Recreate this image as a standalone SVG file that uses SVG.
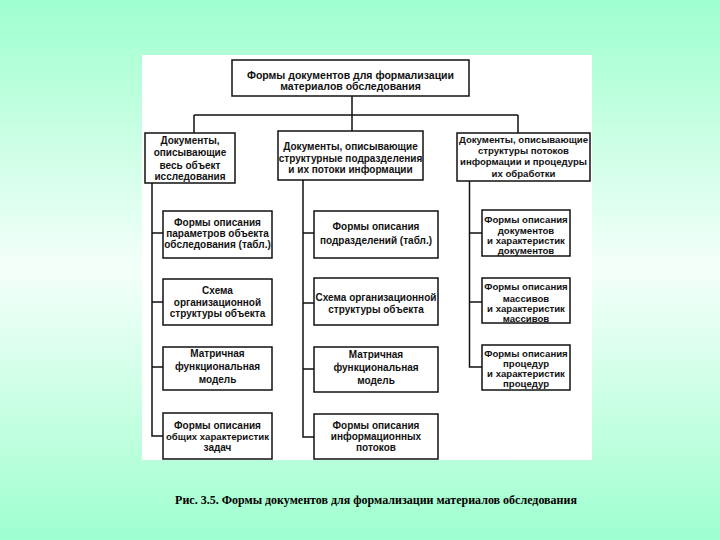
<svg xmlns="http://www.w3.org/2000/svg" width="720" height="540" viewBox="0 0 720 540">
<defs>
<linearGradient id="bg" x1="0" y1="0" x2="0" y2="1">
<stop offset="0" stop-color="#9effce"/>
<stop offset="0.5" stop-color="#f4fffa"/>
<stop offset="1" stop-color="#9effce"/>
</linearGradient>
<style>
.box{fill:#fff;stroke:#111;stroke-width:1.5}
.ln{fill:none;stroke:#111;stroke-width:1.5}
text{font-family:"Liberation Sans",Arial,sans-serif;font-size:10px;font-weight:bold;fill:#111;text-anchor:middle}
.top{font-size:10.5px}
.sm{font-size:9.6px}
.cap{font-family:"Liberation Serif","Times New Roman",serif;font-size:12px;font-weight:bold;fill:#000}
</style>
</defs>
<rect width="720" height="540" fill="url(#bg)"/>
<rect x="142" y="55" width="450" height="405" fill="#fff"/>

<g id="connectors">
<path class="ln" d="M352 96V131M194 115H518M194 115V133M518 115V133"/>
<path class="ln" d="M152 183V436H163M152 233H163M152 302H163M152 367H163"/>
<path class="ln" d="M303 180V437H314M303 233H314M303 303H314M303 369H314"/>
<path class="ln" d="M469.5 181V367H482M469.5 233H482M469.5 302H482"/>
</g>

<g id="root">
<rect class="box" x="232" y="60" width="237" height="36"/>
<text class="top" x="350.5" y="78.5">Формы документов для формализации</text>
<text class="top" x="350.5" y="90">материалов обследования</text>
</g>

<g id="l1">
<rect class="box" x="145" y="133" width="90" height="50"/>
<text x="190" y="143.5">Документы,</text>
<text x="190" y="156">описывающие</text>
<text x="190" y="168.5">весь объект</text>
<text x="190" y="180">исследования</text>
</g>
<g id="m1">
<rect class="box" x="278" y="131" width="145" height="49"/>
<text x="350.5" y="150">Документы, описывающие</text>
<text x="350.5" y="161.5">структурные подразделения</text>
<text x="350.5" y="172.5">и их потоки информации</text>
</g>
<g id="r1" class="sm">
<rect class="box" x="457" y="133" width="133" height="48"/>
<text class="sm" x="523.5" y="143">Документы, описывающие</text>
<text class="sm" x="523.5" y="154">структуры потоков</text>
<text class="sm" x="523.5" y="165">информации и процедуры</text>
<text class="sm" x="523.5" y="177">их обработки</text>
</g>

<g id="l2a">
<rect class="box" x="163" y="211" width="109" height="47"/>
<text x="217.5" y="226">Формы описания</text>
<text x="217.5" y="237">параметров объекта</text>
<text x="217.5" y="248">обследования (табл.)</text>
</g>
<g id="l2b">
<rect class="box" x="163" y="279" width="109" height="46"/>
<text x="217.5" y="293.5">Схема</text>
<text x="217.5" y="306">организационной</text>
<text x="217.5" y="317">структуры объекта</text>
</g>
<g id="l2c">
<rect class="box" x="163" y="347" width="109" height="43"/>
<text x="217.5" y="357">Матричная</text>
<text x="217.5" y="370">функциональная</text>
<text x="217.5" y="383">модель</text>
</g>
<g id="l2d">
<rect class="box" x="163" y="413" width="109" height="46"/>
<text x="217.5" y="428.5">Формы описания</text>
<text class="sm" x="217.5" y="440">общих характеристик</text>
<text x="217.5" y="451">задач</text>
</g>

<g id="m2a">
<rect class="box" x="314" y="211" width="124" height="47"/>
<text x="376" y="230">Формы описания</text>
<text x="376" y="243.5">подразделений (табл.)</text>
</g>
<g id="m2b">
<rect class="box" x="314" y="278" width="124" height="47"/>
<text x="376" y="301">Схема организационной</text>
<text x="376" y="312.5">структуры объекта</text>
</g>
<g id="m2c">
<rect class="box" x="314" y="347" width="124" height="45"/>
<text x="376" y="357.5">Матричная</text>
<text x="376" y="371">функциональная</text>
<text x="376" y="384">модель</text>
</g>
<g id="m2d">
<rect class="box" x="314" y="414" width="124" height="45"/>
<text x="376" y="428.5">Формы описания</text>
<text x="376" y="440">информационных</text>
<text x="376" y="451">потоков</text>
</g>

<g id="r2a">
<rect class="box" x="482" y="210" width="88" height="46"/>
<text class="sm" x="526" y="222.5">Формы описания</text>
<text class="sm" x="526" y="233.5">документов</text>
<text class="sm" x="526" y="243.5">и характеристик</text>
<text class="sm" x="526" y="253.5">документов</text>
</g>
<g id="r2b">
<rect class="box" x="482" y="278" width="88" height="45"/>
<text class="sm" x="526" y="290">Формы описания</text>
<text class="sm" x="526" y="301.5">массивов</text>
<text class="sm" x="526" y="311.5">и характеристик</text>
<text class="sm" x="526" y="321.5">массивов</text>
</g>
<g id="r2c">
<rect class="box" x="482" y="345" width="88" height="45"/>
<text class="sm" x="526" y="356.5">Формы описания</text>
<text class="sm" x="526" y="366.5">процедур</text>
<text class="sm" x="526" y="376.5">и характеристик</text>
<text class="sm" x="526" y="386.5">процедур</text>
</g>

<text class="cap" x="376" y="504">Рис. 3.5. Формы документов для формализации материалов обследования</text>
</svg>
